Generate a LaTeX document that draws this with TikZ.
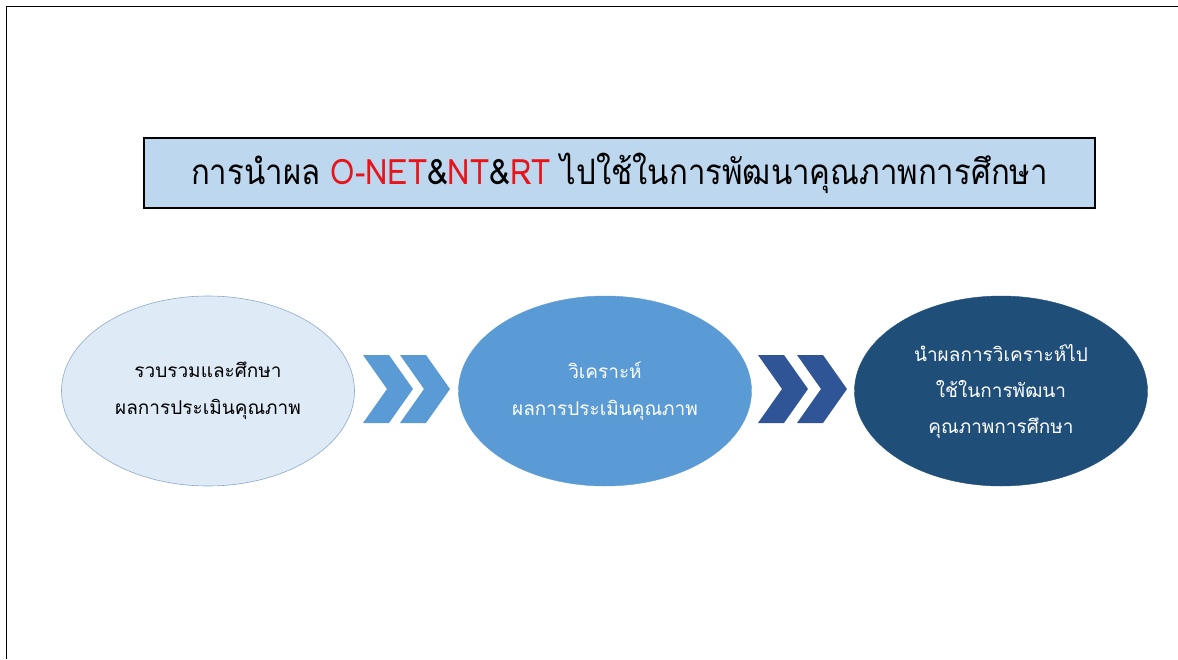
\documentclass[tikz,border=0pt]{standalone}
\usepackage{fontspec}
\newfontfamily\thai[Script=Thai]{Loma}
\newfontfamily\thaititle[Script=Thai,FakeStretch=0.89]{Loma}
\usetikzlibrary{shapes.geometric}
\definecolor{titlefill}{HTML}{BDD7EE}
\definecolor{lightfill}{HTML}{DEEBF7}
\definecolor{lightedge}{HTML}{8EA9C8}
\definecolor{midfill}{HTML}{5B9BD5}
\definecolor{darkfill}{HTML}{1F4E79}
\definecolor{chevdark}{HTML}{2F5597}
\definecolor{titlered}{HTML}{E8141A}
\tikzset{
  stepell/.style={ellipse, minimum width=293pt, minimum height=190pt, inner sep=0pt, align=center,
    font=\thai\fontsize{19}{37}\selectfont},
  chev/.pic={\fill[pic actions] (0,-34) -- (26,-34) -- (50,0) -- (26,34) -- (0,34) -- (24,0) -- cycle;}
}
\begin{document}
\begin{tikzpicture}[x=1pt,y=-1pt]
\useasboundingbox (0,0) rectangle (1178,659);
\draw[line width=1.6pt] (6.5,659) -- (6.5,6.5) -- (1178,6.5);
\node[draw, line width=2.4pt, fill=titlefill, minimum width=951pt, minimum height=70pt, inner sep=0pt,
  font=\thaititle\fontsize{35}{42}\selectfont] (title) at (619.5,173)
  {การนำผล \textcolor{titlered}{O-NET}\&\textcolor{titlered}{NT}\&\textcolor{titlered}{RT} ไปใช้ในการพัฒนาคุณภาพการศึกษา};
\node[stepell, fill=lightfill, draw=lightedge, line width=0.6pt] (e1) at (208,391)
  {รวบรวมและศึกษา\\ผลการประเมินคุณภาพ};
\node[stepell, fill=midfill, draw=midfill, text=white] (e2) at (605,391)
  {วิเคราะห์\\ผลการประเมินคุณภาพ};
\node[stepell, fill=darkfill, draw=darkfill, text=white, font=\thai\fontsize{19}{36}\selectfont] (e3) at (1001,391)
  {นำผลการวิเคราะห์ไป\\ใช้ในการพัฒนา\\คุณภาพการศึกษา};
\coordinate (c1) at (363,389);
\coordinate (c2) at (400,389);
\coordinate (c3) at (758,389);
\coordinate (c4) at (797,389);
\pic[fill=midfill] at (c1) {chev};
\pic[fill=midfill] at (c2) {chev};
\pic[fill=chevdark] at (c3) {chev};
\pic[fill=chevdark] at (c4) {chev};
\end{tikzpicture}
\end{document}
